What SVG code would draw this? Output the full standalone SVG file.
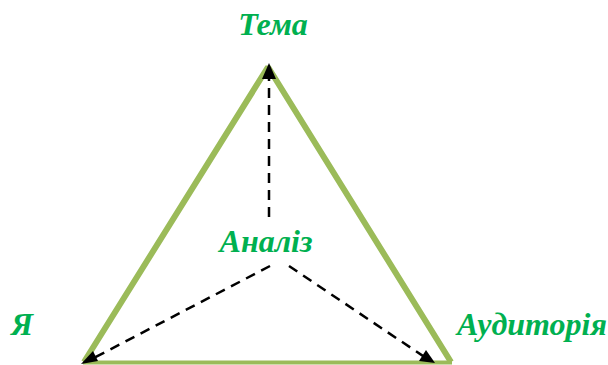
<svg xmlns="http://www.w3.org/2000/svg" width="608" height="365" viewBox="0 0 608 365">
<style>
.lbl{font-family:"Liberation Serif","Times New Roman",serif;font-weight:bold;font-style:italic;font-size:32px;fill:#00B050}
.side{stroke:#9BBB59;fill:none;stroke-linecap:butt;stroke-linejoin:bevel}
.dash{stroke:#000;stroke-width:2.5;stroke-dasharray:10,7;fill:none}
.head{fill:#000}
</style>
<g id="triangle">
<polyline class="side" points="84,362 268,67 451,362" stroke-width="6"/>
<line class="side" x1="83" y1="362.5" x2="452" y2="362.5" stroke-width="4"/>
</g>
<g id="connectors">
<line class="dash" x1="269" y1="217" x2="269" y2="72"/>
<path class="head" d="M262,79 L269,63 L276,79 Z"/>
<line class="dash" x1="270" y1="266" x2="90" y2="360"/>
<path class="head" d="M81,364 L93,351 L98,361 Z"/>
<line class="dash" x1="289" y1="266" x2="426" y2="358"/>
<path class="head" d="M435,363 L419,361 L426,350 Z"/>
</g>
<g id="tema"><text class="lbl" x="273" y="35" text-anchor="middle">Тема</text></g>
<g id="ya"><text class="lbl" x="22" y="335" text-anchor="middle">Я</text></g>
<g id="analiz"><text class="lbl" x="266" y="252" text-anchor="middle">Аналіз</text></g>
<g id="audytoriya"><text class="lbl" x="532" y="335" text-anchor="middle">Аудиторія</text></g>
</svg>
